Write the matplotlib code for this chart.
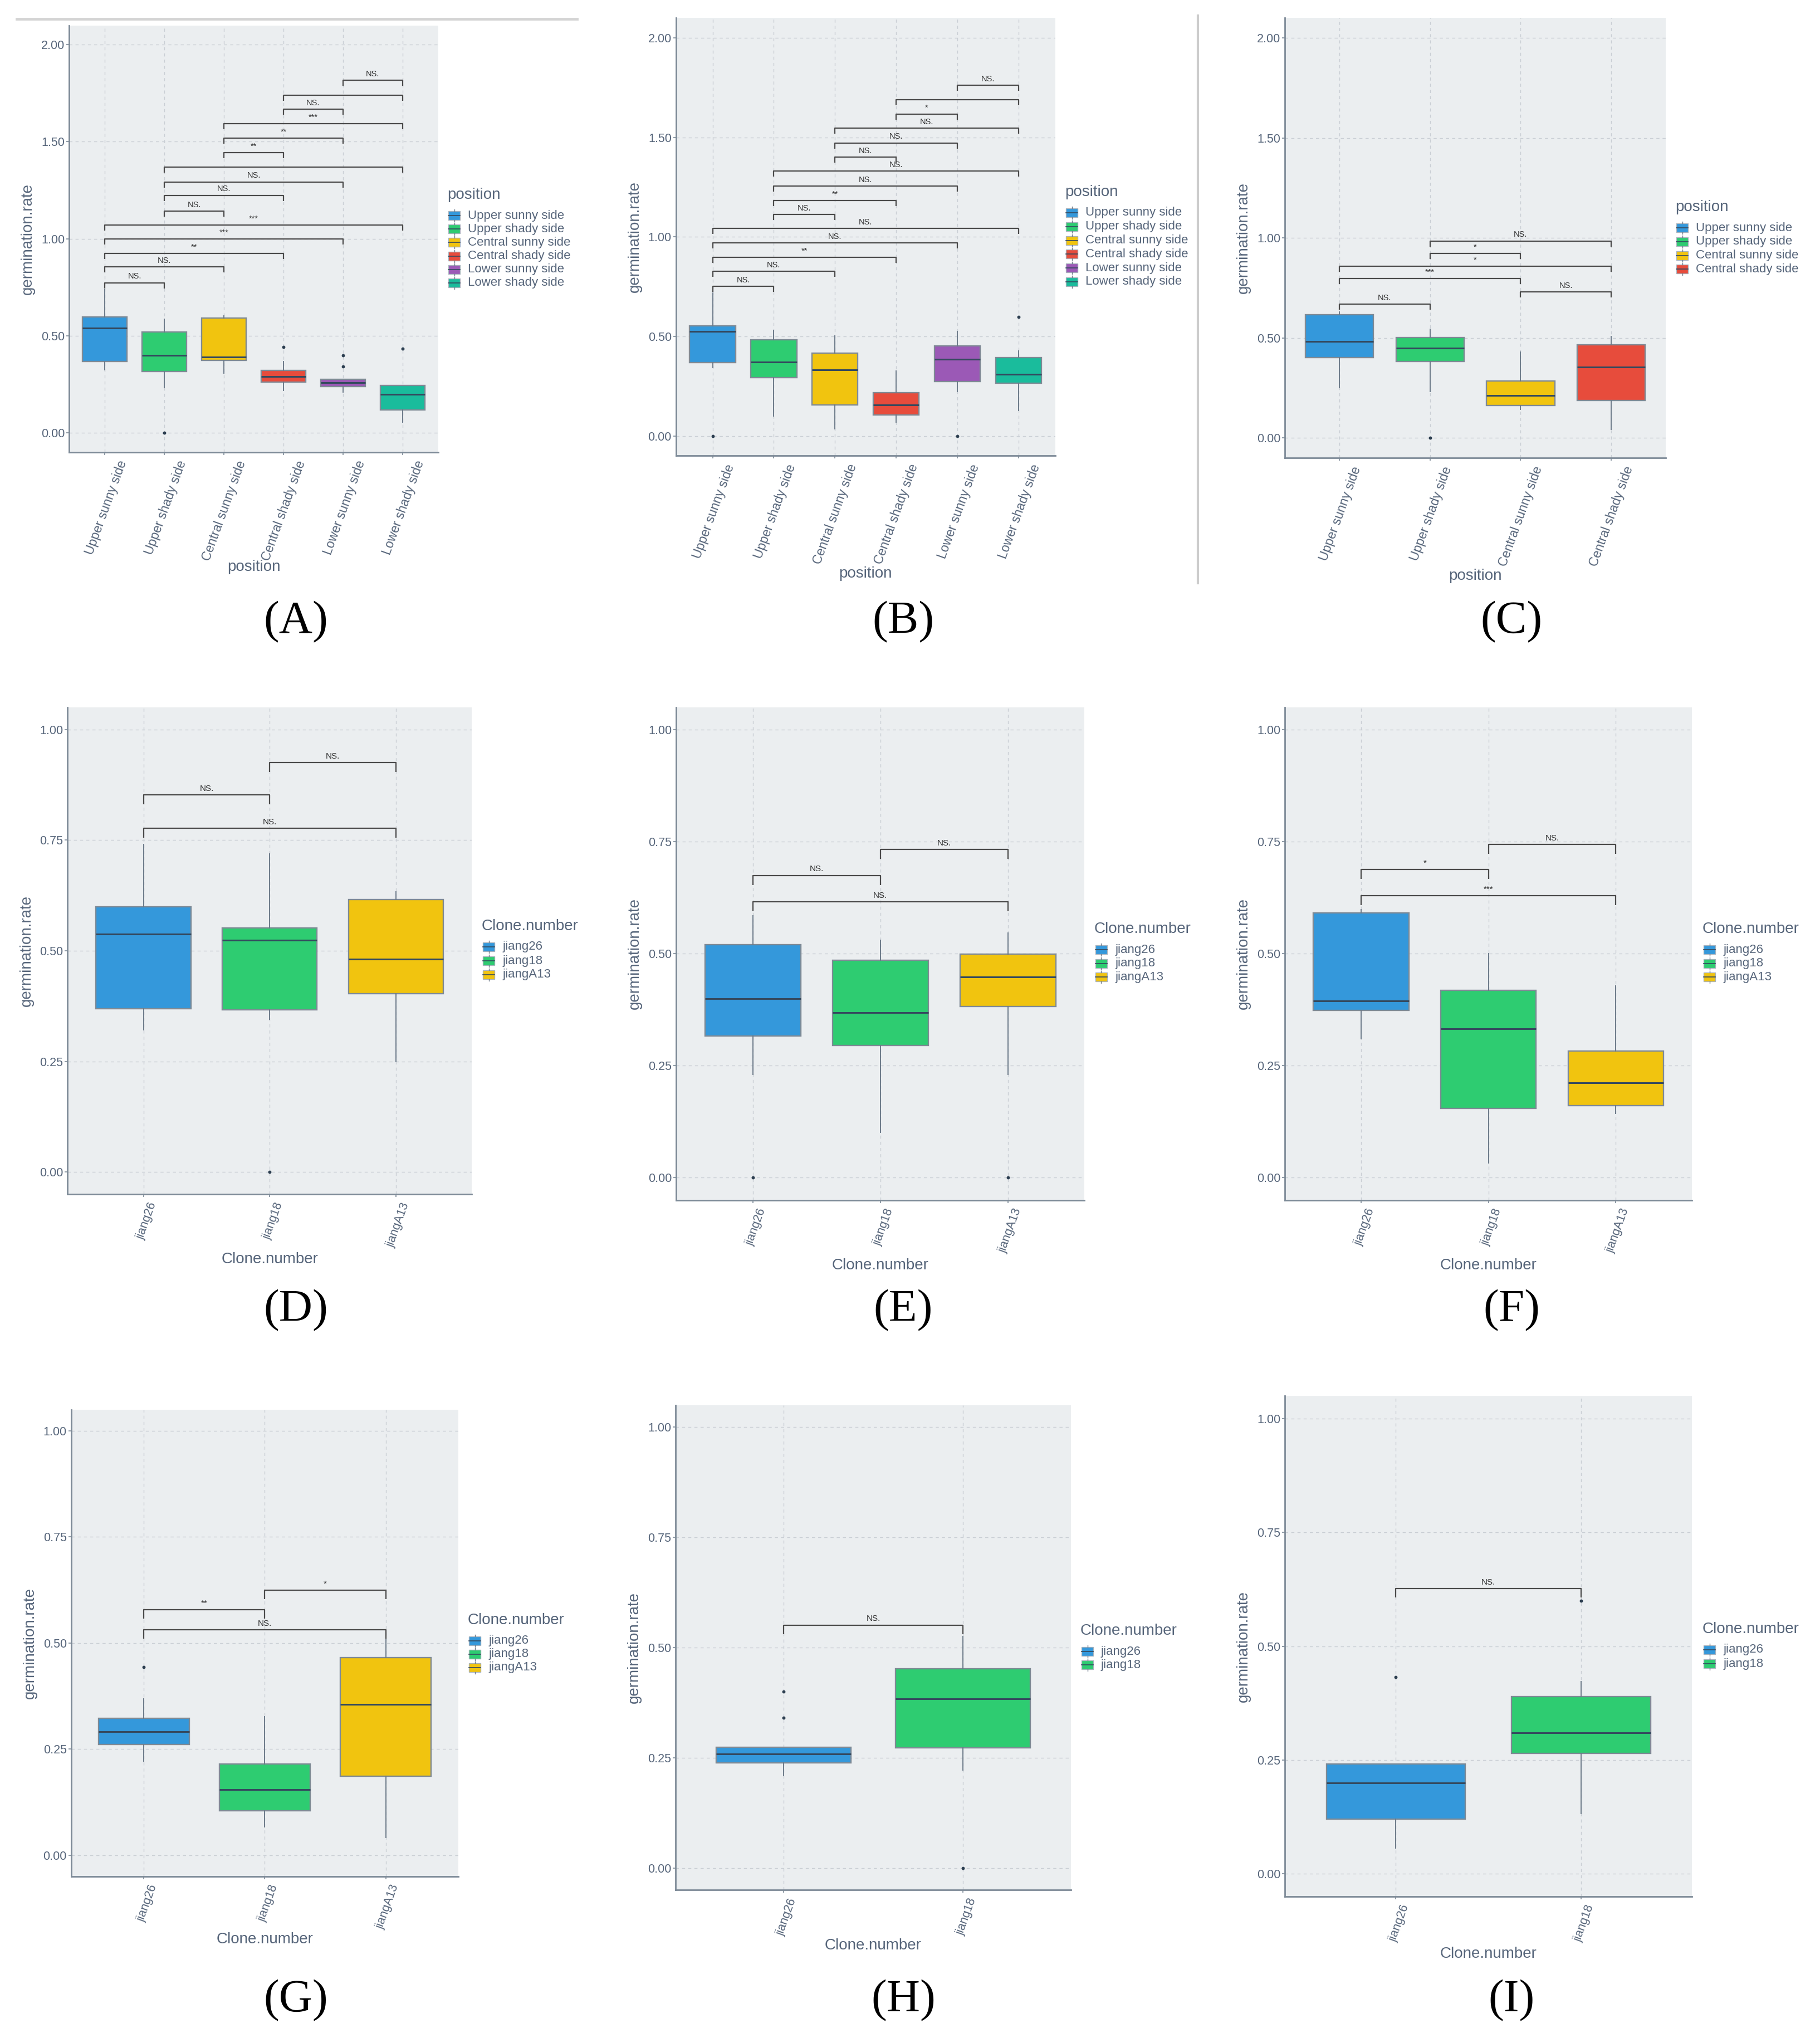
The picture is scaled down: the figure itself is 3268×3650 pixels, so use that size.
import matplotlib
matplotlib.use("Agg")
import matplotlib.pyplot as plt
from matplotlib.patches import Rectangle
from matplotlib.lines import Line2D
import matplotlib.transforms as mtransforms

plt.rcParams['font.family'] = ['Liberation Sans', 'DejaVu Sans']

W, H = 3268, 3650

# ---------------- data ----------------
positions6 = ["Upper sunny side", "Upper shady side", "Central sunny side",
              "Central shady side", "Lower sunny side", "Lower shady side"]
positions4 = positions6[:4]
clones3 = ["jiang26", "jiang18", "jiangA13"]
clones2 = ["jiang26", "jiang18"]

pos_colors = ["#3498db", "#2ecc71", "#f1c40f", "#e74c3c", "#9b59b6", "#1abc9c"]

pairs6 = [(1, 2), (1, 3), (1, 4), (1, 5), (1, 6), (2, 3), (2, 4), (2, 5),
          (2, 6), (3, 4), (3, 5), (3, 6), (4, 5), (4, 6), (5, 6)]
pairs4 = [(1, 2), (3, 4), (1, 3), (1, 4), (2, 3), (2, 4)]
pairs3 = [(1, 3), (1, 2), (2, 3)]
pairs2 = [(1, 2)]

# Panel A
A_q1 = [0.368, 0.314, 0.372, 0.262, 0.237, 0.118]
A_med = [0.538, 0.399, 0.391, 0.289, 0.258, 0.198]
A_q3 = [0.597, 0.520, 0.590, 0.322, 0.276, 0.243]
A_lo = [0.324, 0.233, 0.308, 0.218, 0.208, 0.054]
A_hi = [0.738, 0.584, 0.603, 0.368, 0.276, 0.243]
A_out = [[], [0.0], [], [0.443], [0.399, 0.341], [0.432]]
A_sig_y = [0.773, 0.854, 0.925, 0.998, 1.071, 1.143, 1.224, 1.293, 1.368,
           1.445, 1.518, 1.592, 1.667, 1.740, 1.817]
A_sig = ["NS.", "NS.", "**", "***", "***", "NS.", "NS.", "NS.", "",
         "**", "**", "***", "NS.", "", "NS."]

# Panel B
B_q1 = [0.368, 0.293, 0.156, 0.105, 0.272, 0.265]
B_med = [0.524, 0.370, 0.332, 0.156, 0.385, 0.310]
B_q3 = [0.554, 0.484, 0.417, 0.216, 0.453, 0.392]
B_lo = [0.344, 0.100, 0.034, 0.068, 0.222, 0.128]
B_hi = [0.719, 0.531, 0.503, 0.325, 0.526, 0.428]
B_out = [[0.0], [], [], [], [0.0], [0.599]]
B_sig_y = [0.751, 0.826, 0.898, 0.969, 1.042, 1.112, 1.183, 1.256, 1.330,
           1.401, 1.472, 1.546, 1.617, 1.690, 1.761]
B_sig = ["NS.", "NS.", "**", "NS.", "NS.", "NS.", "**", "NS.", "NS.",
         "NS.", "NS.", "NS.", "*", "", "NS."]

# Panel C
C_q1 = [0.403, 0.382, 0.162, 0.188]
C_med = [0.483, 0.450, 0.213, 0.356]
C_q3 = [0.616, 0.502, 0.285, 0.465]
C_lo = [0.252, 0.233, 0.144, 0.043]
C_hi = [0.629, 0.543, 0.429, 0.509]
C_out = [[], [0.0], [], []]
C_sig_y = [0.668, 0.731, 0.797, 0.858, 0.923, 0.985]
C_sig = ["NS.", "NS.", "***", "*", "*", "NS."]

# Panel D
D_q1 = [0.369, 0.367, 0.403]
D_med = [0.538, 0.524, 0.481]
D_q3 = [0.599, 0.551, 0.616]
D_lo = [0.321, 0.345, 0.250]
D_hi = [0.741, 0.719, 0.634]
D_out = [[], [0.0], []]
D_sig_y = [0.777, 0.852, 0.925]
D_sig = ["NS.", "NS.", "NS."]

# Panel E
E_q1 = [0.316, 0.295, 0.382]
E_med = [0.400, 0.368, 0.448]
E_q3 = [0.520, 0.486, 0.499]
E_lo = [0.230, 0.101, 0.230]
E_hi = [0.585, 0.530, 0.546]
E_out = [[0.0], [], [0.0]]
E_sig_y = [0.616, 0.675, 0.733]
E_sig = ["NS.", "NS.", "NS."]

# Panel F
F_q1 = [0.373, 0.155, 0.161]
F_med = [0.395, 0.332, 0.212]
F_q3 = [0.591, 0.418, 0.283]
F_lo = [0.310, 0.033, 0.143]
F_hi = [0.599, 0.500, 0.428]
F_out = [[], [], []]
F_sig_y = [0.630, 0.688, 0.744]
F_sig = ["***", "*", "NS."]

# Panel G
G_q1 = [0.261, 0.105, 0.186]
G_med = [0.291, 0.155, 0.355]
G_q3 = [0.322, 0.215, 0.465]
G_lo = [0.222, 0.067, 0.041]
G_hi = [0.369, 0.326, 0.509]
G_out = [[0.443], [], []]
G_sig_y = [0.531, 0.578, 0.625]
G_sig = ["NS.", "**", "*"]

# Panel H
H_q1 = [0.238, 0.272]
H_med = [0.259, 0.384]
H_q3 = [0.274, 0.452]
H_lo = [0.210, 0.222]
H_hi = [0.274, 0.525]
H_out = [[0.400, 0.341], [0.0]]
H_sig_y = [0.551]
H_sig = ["NS."]

# Panel I
I_q1 = [0.120, 0.265]
I_med = [0.200, 0.310]
I_q3 = [0.241, 0.389]
I_lo = [0.057, 0.132]
I_hi = [0.241, 0.422]
I_out = [[0.432], [0.600]]
I_sig_y = [0.627]
I_sig = ["NS."]

# ---------------- styling ----------------
BG = "#ebeef0"
GRID = "#c9ced4"
AXIS = "#7d8a97"
TXT = "#56657a"
BOX_EDGE = "#7f8a95"
MED = "#34495e"
WHISK = "#6c7a89"
DOT = "#2c3e50"
BRACKET = "#4a4a4a"

fig = plt.figure(figsize=(W / 100, H / 100), dpi=100)


def fx(x):
    return x / W


def fy(y):
    return 1 - y / H


def panel(box, names, q1, med, q3, lo, hi, out, pairs, sig_y, sig,
          ylim, yticks, xtitle, legend_title, leg_xy, leg_dy,
          xlab_off, tip_px, sig_fs, xt_fs, xt_dx, xt_dy):
    l, r, t, b = box
    ax = fig.add_axes([fx(l), fy(b), (r - l) / W, (b - t) / H])
    n = len(names)
    pos = list(range(1, n + 1))
    cols = pos_colors[:n]
    stats = [dict(q1=a, med=m, q3=c, whislo=w1, whishi=w2, fliers=f)
             for a, m, c, w1, w2, f in zip(q1, med, q3, lo, hi, out)]
    ax.set_facecolor(BG)
    ax.set_axisbelow(True)
    ax.grid(True, color=GRID, linestyle=(0, (4, 4)), linewidth=1.0)
    bp = ax.bxp(stats, positions=pos, widths=0.75, patch_artist=True,
                showcaps=False, showfliers=True,
                boxprops=dict(edgecolor=BOX_EDGE, linewidth=1.7),
                medianprops=dict(color=MED, linewidth=2.2),
                whiskerprops=dict(color=WHISK, linewidth=1.4),
                flierprops=dict(marker='o', markersize=3.2,
                                markerfacecolor=DOT, markeredgecolor=DOT))
    for patch, c in zip(bp['boxes'], cols):
        patch.set_facecolor(c)
    ax.set_xlim(0.4, n + 0.6)
    ax.set_ylim(*ylim)
    height_px = b - t
    tip = tip_px / height_px * (ylim[1] - ylim[0])
    for (i, j), yv, lab in zip(pairs, sig_y, sig):
        ax.plot([i, i, j, j], [yv - tip, yv, yv, yv - tip], color=BRACKET,
                lw=1.6, solid_capstyle='butt', zorder=5)
        if lab:
            ax.annotate(lab, xy=((i + j) / 2, yv), xytext=(0, 3),
                        textcoords='offset points', ha='center', va='bottom',
                        fontsize=sig_fs, color="#333333", zorder=6)
    ax.set_yticks(yticks)
    ax.set_yticklabels([f"{v:.2f}" for v in yticks])
    ax.set_xticks(pos)
    ax.set_xticklabels([])
    # rotated category labels, placed like ggplot's angled axis text
    trans = (mtransforms.blended_transform_factory(ax.transData, ax.transAxes)
             + mtransforms.ScaledTranslation(xt_dx / 100, -xt_dy / 100,
                                             fig.dpi_scale_trans))
    for p, nm in zip(pos, names):
        ax.text(p, 0, nm, transform=trans, rotation=70, ha='right',
                va='top', rotation_mode='anchor', fontsize=xt_fs,
                color=TXT, clip_on=False)
    for s in ['top', 'right']:
        ax.spines[s].set_visible(False)
    for s in ['left', 'bottom']:
        ax.spines[s].set_color(AXIS)
        ax.spines[s].set_linewidth(2.0)
    ax.tick_params(axis='both', colors=AXIS, length=3.6, width=1.2,
                   labelsize=15.5, labelcolor=TXT, pad=2)
    ax.set_ylabel("germination.rate", fontsize=20, color=TXT, va='center')
    ax.yaxis.set_label_coords(-74 / (r - l), 0.5)
    ax.set_xlabel(xtitle, fontsize=20, color=TXT, va='center')
    ax.xaxis.set_label_coords(0.5, -xlab_off / height_px)

    # legend (ggplot style, drawn in figure pixels)
    tx, ty = leg_xy
    fig.text(fx(tx), fy(ty), legend_title, fontsize=20, color=TXT,
             ha='left', va='center')
    for k, (nm, c) in enumerate(zip(names, cols)):
        yc = ty + 37 + k * leg_dy
        kx = tx + 2
        fig.add_artist(Rectangle((fx(kx), fy(yc + 8)), 21 / W, 16 / H,
                                 transform=fig.transFigure, facecolor=c,
                                 edgecolor="#a9b3bd", lw=1.0))
        fig.add_artist(Line2D([fx(kx), fx(kx + 21)], [fy(yc), fy(yc)],
                              transform=fig.transFigure, color=MED, lw=1.2))
        for y0, y1 in [(yc - 8, yc - 11), (yc + 8, yc + 11)]:
            fig.add_artist(Line2D([fx(kx + 10.5)] * 2, [fy(y0), fy(y1)],
                                  transform=fig.transFigure, color=WHISK,
                                  lw=1.0))
        fig.text(fx(tx + 37), fy(yc), nm, fontsize=16, color=TXT,
                 ha='left', va='center')
    return ax


ylim_big = (-0.1, 2.1)
yt_big = [0.0, 0.5, 1.0, 1.5, 2.0]
ylim_small = (-0.05, 1.05)
yt_small = [0.0, 0.25, 0.5, 0.75, 1.0]

panel((124, 787, 45.5, 811.6), positions6, A_q1, A_med, A_q3, A_lo, A_hi,
      A_out, pairs6, A_sig_y, A_sig, ylim_big, yt_big, "position", "position",
      (803, 350), 24.2, 206, 10, 10.5, 16.5, 22, 12)
panel((1213.6, 1894.8, 32.1, 818.3), positions6, B_q1, B_med, B_q3, B_lo,
      B_hi, B_out, pairs6, B_sig_y, B_sig, ylim_big, yt_big, "position",
      "position", (1912, 345), 24.8, 212, 10, 10.5, 16.5, 22, 12)
panel((2307, 2991, 32.1, 822.3), positions4, C_q1, C_med, C_q3, C_lo, C_hi,
      C_out, pairs4, C_sig_y, C_sig, ylim_big, yt_big, "position", "position",
      (3008, 372), 24.8, 212, 10, 10.5, 16.5, 22, 12)
panel((121.4, 847.4, 1270, 2144), clones3, D_q1, D_med, D_q3, D_lo, D_hi,
      D_out, pairs3, D_sig_y, D_sig, ylim_small, yt_small, "Clone.number",
      "Clone.number", (865, 1663), 25, 117, 17, 11, 15.5, 8, 12)
panel((1214.3, 1947.4, 1270, 2154.6), clones3, E_q1, E_med, E_q3, E_lo,
      E_hi, E_out, pairs3, E_sig_y, E_sig, ylim_small, yt_small,
      "Clone.number", "Clone.number", (1965, 1668), 24.6, 117, 17, 11,
      15.5, 8, 12)
panel((2307, 3038.4, 1270, 2154.6), clones3, F_q1, F_med, F_q3, F_lo, F_hi,
      F_out, pairs3, F_sig_y, F_sig, ylim_small, yt_small, "Clone.number",
      "Clone.number", (3057, 1668), 24.6, 117, 17, 11, 15.5, 8, 12)
panel((127.7, 822.9, 2530.7, 3368.8), clones3, G_q1, G_med, G_q3, G_lo,
      G_hi, G_out, pairs3, G_sig_y, G_sig, ylim_small, yt_small,
      "Clone.number", "Clone.number", (840, 2909), 23.8, 113, 16, 11,
      15.5, 8, 12)
panel((1213, 1922.9, 2522.5, 3393.4), clones2, H_q1, H_med, H_q3, H_lo,
      H_hi, H_out, pairs2, H_sig_y, H_sig, ylim_small, yt_small,
      "Clone.number", "Clone.number", (1940, 2928), 24, 100, 16, 11,
      15.5, 8, 12)
panel((2307, 3038.4, 2506, 3405), clones2, I_q1, I_med, I_q3, I_lo, I_hi,
      I_out, pairs2, I_sig_y, I_sig, ylim_small, yt_small, "Clone.number",
      "Clone.number", (3057, 2925), 25.4, 103, 16, 11, 15.5, 8, 12)

# panel labels
for lab, x, y in [("(A)", 531, 1117), ("(B)", 1622, 1117), ("(C)", 2714, 1117),
                  ("(D)", 531, 2353), ("(E)", 1622, 2353), ("(F)", 2714, 2353),
                  ("(G)", 531, 3592), ("(H)", 1622, 3592), ("(I)", 2714, 3592)]:
    fig.text(fx(x), fy(y), lab, fontsize=60, family='Liberation Serif',
             color='black', ha='center', va='center')

# decorative separator lines from the source figure
fig.add_artist(Line2D([fx(30), fx(1036)], [fy(33.5), fy(33.5)],
                      transform=fig.transFigure, color="#d4d4d4", lw=3.5))
fig.add_artist(Line2D([fx(2151), fx(2151)], [fy(28), fy(1047)],
                      transform=fig.transFigure, color="#cccccc", lw=3.0))

fig.savefig("out.png", dpi=100, facecolor='white')
